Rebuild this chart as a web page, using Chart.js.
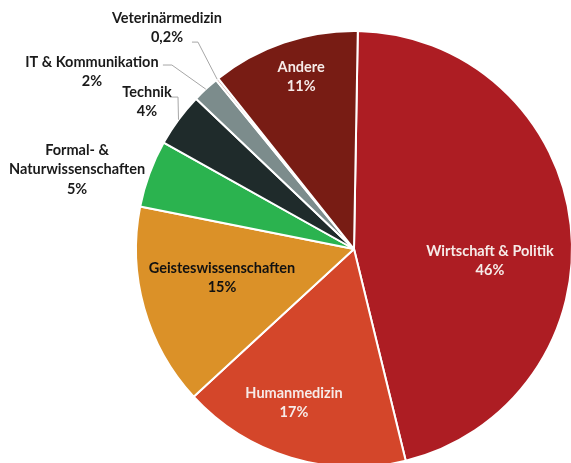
<!DOCTYPE html>
<html>
<head>
<meta charset="utf-8">
<script src="https://cdn.jsdelivr.net/npm/chart.js@4.4.1/dist/chart.umd.min.js"></script>
<style>
  html, body { margin: 0; padding: 0; background: #fff; overflow: hidden; }
  canvas { display: block; }
</style>
</head>
<body>
<canvas id="pie" width="600" height="500"></canvas>
<script>
const categories = [
  'Wirtschaft & Politik',
  'Humanmedizin',
  'Geisteswissenschaften',
  'Formal- & Naturwissenschaften',
  'Technik',
  'IT & Kommunikation',
  'Veterinärmedizin',
  'Andere',
];
const shares = [46, 17, 15, 5, 4, 2, 0.2, 11];
const sliceColors = ['#ad1d23', '#d4462a', '#db9128', '#2bb34f', '#1f2b2b', '#7c8c8c', '#c9a7a3', '#781c14'];

// where each label goes, relative to its slice (angle nudge in degrees, radius fraction, or offset from the rim)
const labelPlacement = [
  { inside: true, da: 11.4, r: 0.626, color: '#f6ebe8' },
  { inside: true, da: 4.5, r: 0.758, color: '#f6ebe8' },
  { inside: true, da: 3.3, r: 0.62, color: '#111' },
  { inside: false, dx: -72.4, dy: -23.7, lines: ['Formal- &', 'Naturwissenschaften'], color: '#1a1a1a' },
  { inside: false, dx: -31.5, dy: -27.6, leader: [[-8.5, -22.6], [-0.5, -22.6]], color: '#1a1a1a' },
  { inside: false, dx: -113.9, dy: -27.1, leader: [[-42.9, -24.1], [-33.9, -24.1]], color: '#1a1a1a' },
  { inside: false, dx: -50.2, dy: -61.2, leader: [[-25.2, -37.2], [-19.2, -37.2]], color: '#1a1a1a' },
  { inside: true, da: 1.7, r: 0.826, color: '#f6ebe8' },
];
const lineGap = 19.5;

const pieLabels = {
  id: 'pieLabels',
  afterDatasetsDraw(chart) {
    const ctx = chart.ctx;
    const arcs = chart.getDatasetMeta(0).data;
    ctx.save();
    ctx.font = 'bold 14.5px Lato, "Open Sans", sans-serif';
    ctx.textAlign = 'center';
    ctx.textBaseline = 'middle';
    arcs.forEach((arc, i) => {
      const { x, y, startAngle, endAngle, outerRadius } = arc.getProps(['x', 'y', 'startAngle', 'endAngle', 'outerRadius'], true);
      const p = labelPlacement[i];
      const pct = String(shares[i]).replace('.', ',') + '%';
      const mid = (startAngle + endAngle) / 2;
      const lines = (p.lines || [categories[i]]).concat([pct]);
      let tx, ty;
      if (p.inside) {
        const a = mid + p.da * Math.PI / 180;
        const r = outerRadius * p.r;
        tx = x + Math.cos(a) * r;
        ty = y + Math.sin(a) * r - (lines.length - 1) * lineGap / 2;
      } else {
        const ex = x + Math.cos(mid) * outerRadius;
        const ey = y + Math.sin(mid) * outerRadius;
        tx = ex + p.dx;
        ty = ey + p.dy;
        if (p.leader) {
          ctx.strokeStyle = '#a6a6a6';
          ctx.lineWidth = 1;
          ctx.beginPath();
          ctx.moveTo(ex + p.leader[0][0], ey + p.leader[0][1]);
          ctx.lineTo(ex + p.leader[1][0], ey + p.leader[1][1]);
          ctx.lineTo(ex, ey);
          ctx.stroke();
        }
      }
      ctx.fillStyle = p.color;
      lines.forEach((t, k) => ctx.fillText(t, tx, ty + k * lineGap));
    });
    ctx.restore();
  },
};

new Chart(document.getElementById('pie'), {
  type: 'pie',
  data: {
    labels: categories,
    datasets: [{
      data: shares,
      backgroundColor: sliceColors,
      borderColor: '#ffffff',
      borderWidth: 2,
      hoverOffset: 0,
    }],
  },
  options: {
    responsive: false,
    devicePixelRatio: 1,
    animation: false,
    rotation: 1,
    layout: { padding: { left: 135, top: 30, right: 27, bottom: 32 } },
    plugins: {
      legend: { display: false },
      tooltip: { enabled: false },
    },
  },
  plugins: [pieLabels],
});
</script>
</body>
</html>
